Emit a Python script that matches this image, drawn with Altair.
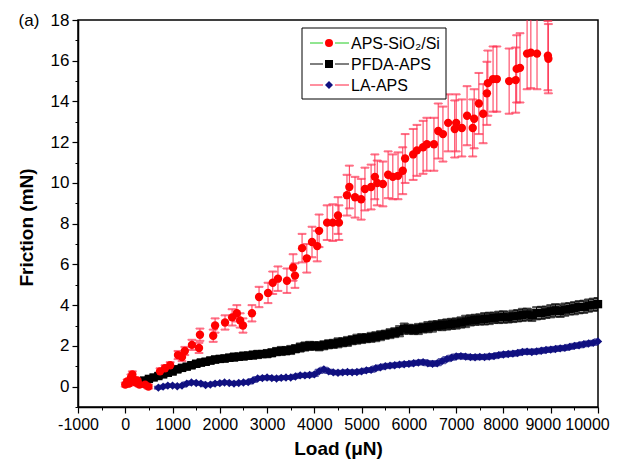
import altair as alt
import pandas as pd

series_names = ["APS-SiO₂/Si", "PFDA-APS", "LA-APS"]

red_load = [0, 40, 80, 120, 150, 180, 220, 260, 300, 420, 490, 735, 840, 950, 1115, 1200, 1260,
            1410, 1560, 1580, 1860, 1900, 2110, 2260, 2360, 2430, 2490, 2680, 2830, 3020, 3120,
            3230, 3420, 3550, 3590, 3740, 3840, 3950, 4060, 4100, 4270, 4390, 4500, 4520, 4690,
            4740, 4860, 4990, 5070, 5200, 5280, 5330, 5450, 5560, 5660, 5770, 5870, 5920, 6090,
            6170, 6300, 6380, 6530, 6620, 6720, 6830, 6970, 7000, 7120, 7230, 7350, 7380, 7480,
            7570, 7650, 7670, 7780, 7860, 8120, 8260, 8280, 8350, 8500, 8580, 8710, 8940, 8950]
red_friction = [0.1, 0.25, 0.15, 0.45, 0.6, 0.35, 0.2, 0.3, 0.1, 0.1, 0.0, 0.75, 0.9, 1.05, 1.55,
                1.45, 1.75, 2.05, 1.9, 2.55, 2.5, 3.0, 3.15, 3.4, 3.6, 3.25, 3.0, 3.6, 4.4, 4.6,
                5.1, 5.3, 5.2, 5.85, 5.45, 6.8, 6.3, 7.1, 6.9, 7.65, 8.05, 8.05, 8.4, 8.05, 9.4,
                9.8, 9.3, 9.2, 9.7, 9.8, 10.3, 10.0, 9.95, 10.4, 10.3, 10.35, 10.6, 11.2, 11.4,
                11.6, 11.75, 11.9, 11.9, 12.55, 12.4, 12.95, 12.65, 12.95, 12.7, 13.3, 12.7, 13.15,
                13.9, 13.4, 14.4, 14.9, 15.1, 15.1, 15.0, 15.05, 15.6, 15.65, 16.35, 16.4, 16.35,
                16.25, 16.1]
red_err = [0.1, 0.1, 0.1, 0.15, 0.15, 0.1, 0.1, 0.1, 0.1, 0.1, 0.1, 0.15, 0.15, 0.15, 0.2, 0.2,
           0.2, 0.25, 0.25, 0.3, 0.3, 0.35, 0.35, 0.4, 0.4, 0.35, 0.35, 0.4, 0.5, 0.5, 0.55, 0.6,
           0.6, 0.65, 0.6, 0.7, 0.7, 0.75, 0.75, 0.8, 0.85, 0.9, 0.9, 0.85, 1.0, 1.05, 1.0, 1.0,
           1.05, 1.1, 1.1, 1.1, 1.1, 1.15, 1.1, 1.15, 1.15, 1.2, 1.25, 1.25, 1.3, 1.3, 1.3, 1.35,
           1.35, 1.4, 1.4, 1.4, 1.4, 1.45, 1.4, 1.45, 1.5, 1.45, 1.55, 1.6, 1.6, 1.6, 1.6, 1.6,
           1.65, 1.7, 1.75, 1.75, 1.75, 1.7, 1.7]

black_load = [300, 400, 500, 600, 700, 800, 900, 1000, 1100, 1200, 1300, 1400, 1500, 1600, 1700,
              1800, 1900, 2000, 2100, 2200, 2300, 2400, 2500, 2600, 2700, 2800, 2900, 3000, 3100,
              3200, 3300, 3400, 3500, 3600, 3700, 3800, 3900, 4000, 4100, 4200, 4300, 4400, 4500,
              4600, 4700, 4800, 4900, 5000, 5100, 5200, 5300, 5400, 5500, 5600, 5700, 5800, 5900,
              6000, 6100, 6200, 6300, 6400, 6500, 6600, 6700, 6800, 6900, 7000, 7100, 7200, 7300,
              7400, 7500, 7600, 7700, 7800, 7900, 8000, 8100, 8200, 8300, 8400, 8500, 8600, 8700,
              8800, 8900, 9000, 9100, 9200, 9300, 9400, 9500, 9600, 9700, 9800, 9900, 10000]
black_friction = [0.22, 0.30, 0.38, 0.45, 0.52, 0.60, 0.68, 0.74, 0.85, 0.92, 0.98, 1.05, 1.12,
                  1.18, 1.22, 1.28, 1.33, 1.36, 1.38, 1.42, 1.45, 1.47, 1.50, 1.52, 1.55, 1.58,
                  1.60, 1.62, 1.66, 1.72, 1.75, 1.76, 1.80, 1.86, 1.92, 1.97, 2.00, 2.00, 1.98,
                  2.03, 2.08, 2.10, 2.15, 2.18, 2.22, 2.28, 2.33, 2.36, 2.38, 2.42, 2.45, 2.50,
                  2.55, 2.60, 2.65, 2.72, 2.85, 2.82, 2.80, 2.83, 2.88, 2.92, 2.95, 3.00, 3.02,
                  3.05, 3.08, 3.10, 3.15, 3.20, 3.25, 3.28, 3.30, 3.33, 3.35, 3.38, 3.40, 3.42,
                  3.40, 3.45, 3.48, 3.52, 3.55, 3.50, 3.60, 3.62, 3.65, 3.70, 3.75, 3.72, 3.78,
                  3.82, 3.85, 3.90, 3.92, 3.98, 4.02, 4.05]
black_err = [0.08, 0.1, 0.1, 0.1, 0.12, 0.12, 0.12, 0.12, 0.15, 0.15, 0.12, 0.15, 0.15, 0.15,
             0.15, 0.15, 0.15, 0.15, 0.15, 0.15, 0.18, 0.15, 0.18, 0.15, 0.18, 0.18, 0.15, 0.18,
             0.18, 0.18, 0.2, 0.18, 0.2, 0.18, 0.2, 0.2, 0.2, 0.18, 0.2, 0.2, 0.2, 0.2, 0.22,
             0.2, 0.22, 0.2, 0.22, 0.22, 0.2, 0.22, 0.22, 0.22, 0.2, 0.22, 0.22, 0.25, 0.25,
             0.22, 0.22, 0.25, 0.22, 0.25, 0.25, 0.22, 0.25, 0.25, 0.25, 0.25, 0.25, 0.28, 0.25,
             0.25, 0.25, 0.28, 0.28, 0.25, 0.28, 0.28, 0.25, 0.28, 0.28, 0.3, 0.28, 0.28, 0.3,
             0.3, 0.28, 0.3, 0.3, 0.3, 0.3, 0.28, 0.3, 0.3, 0.3, 0.3, 0.3, 0.3]

blue_load = [700, 800, 900, 1000, 1100, 1200, 1300, 1400, 1500, 1600, 1700, 1800, 1900, 2000,
             2100, 2200, 2300, 2400, 2500, 2600, 2700, 2800, 2900, 3000, 3100, 3200, 3300, 3400,
             3500, 3600, 3700, 3800, 3900, 4000, 4100, 4200, 4300, 4400, 4500, 4600, 4700, 4800,
             4900, 5000, 5100, 5200, 5300, 5400, 5500, 5600, 5700, 5800, 5900, 6000, 6100, 6200,
             6300, 6400, 6500, 6600, 6700, 6800, 6900, 7000, 7100, 7200, 7300, 7400, 7500, 7600,
             7700, 7800, 7900, 8000, 8100, 8200, 8300, 8400, 8500, 8600, 8700, 8800, 8900, 9000,
             9100, 9200, 9300, 9400, 9500, 9600, 9700, 9800, 9900, 10000]
blue_friction = [-0.05, 0.0, 0.05, 0.05, 0.02, 0.05, 0.15, 0.2, 0.18, 0.15, 0.08, 0.1, 0.15, 0.17,
                 0.2, 0.18, 0.15, 0.18, 0.2, 0.22, 0.3, 0.4, 0.42, 0.45, 0.42, 0.4, 0.43, 0.45,
                 0.45, 0.5, 0.55, 0.55, 0.57, 0.6, 0.75, 0.85, 0.75, 0.7, 0.68, 0.7, 0.72, 0.7,
                 0.72, 0.75, 0.8, 0.82, 0.9, 0.95, 1.0, 1.03, 1.05, 1.08, 1.1, 1.12, 1.15, 1.18,
                 1.2, 1.15, 1.12, 1.15, 1.25, 1.35, 1.42, 1.48, 1.5, 1.47, 1.45, 1.44, 1.46, 1.45,
                 1.48, 1.5, 1.55, 1.58, 1.6, 1.62, 1.65, 1.7, 1.72, 1.7, 1.73, 1.76, 1.8, 1.82,
                 1.85, 1.88, 1.9, 1.95, 2.0, 2.03, 2.08, 2.12, 2.15, 2.22]
blue_err = [0.05, 0.05, 0.05, 0.05, 0.05, 0.05, 0.06, 0.06, 0.06, 0.06, 0.06, 0.06,
            0.06, 0.06, 0.06, 0.06, 0.06, 0.06, 0.06, 0.07, 0.07, 0.07, 0.07, 0.07, 0.07, 0.07,
            0.07, 0.07, 0.07, 0.08, 0.08, 0.08, 0.08, 0.08, 0.08, 0.08, 0.08, 0.08, 0.08, 0.08,
            0.08, 0.08, 0.08, 0.08, 0.08, 0.09, 0.09, 0.09, 0.09, 0.09, 0.09, 0.09, 0.09, 0.09,
            0.09, 0.09, 0.1, 0.1, 0.1, 0.1, 0.1, 0.1, 0.1, 0.1, 0.1, 0.1, 0.1, 0.1, 0.1, 0.1,
            0.1, 0.1, 0.1, 0.1, 0.1, 0.1, 0.1, 0.1, 0.1, 0.1, 0.1, 0.1, 0.1, 0.1, 0.1, 0.1,
            0.1, 0.1, 0.1, 0.1, 0.1, 0.1, 0.1, 0.1]

x_major = [-1000, 0, 1000, 2000, 3000, 4000, 5000, 6000, 7000, 8000, 9000, 10000]
x_minor = [-500, 500, 1500, 2500, 3500, 4500, 5500, 6500, 7500, 8500, 9500]
y_major = [0, 2, 4, 6, 8, 10, 12, 14, 16, 18]
y_minor = [-1, 1, 3, 5, 7, 9, 11, 13, 15, 17]

marker_colors = ["#ff0000", "#000000", "#101080"]
bar_colors = ["#ff3050", "#000000", "#101080"]
legend_line_colors = ["#22cc22", "#000000", "#ff2040"]
shapes = ["circle", "square", "diamond"]

rows = []
for name, loads, fr, er in [
    (series_names[2], blue_load, blue_friction, blue_err),
    (series_names[1], black_load, black_friction, black_err),
    (series_names[0], red_load, red_friction, red_err),
]:
    for l, f, e in zip(loads, fr, er):
        rows.append({"series": name, "load": l, "friction": f, "lo": f - e, "hi": f + e})
df = pd.DataFrame(rows)

FONT = "Liberation Sans"
x_scale = alt.Scale(domain=[-1000, 10000], nice=False, zero=False)
y_scale = alt.Scale(domain=[-1, 18], nice=False, zero=False)
fill_scale = alt.Scale(domain=series_names, range=marker_colors)
bar_scale = alt.Scale(domain=series_names, range=bar_colors)
shape_scale = alt.Scale(domain=series_names, range=shapes)

base = alt.Chart(df)

axis_common = dict(labelFont=FONT, labelColor="black", titleFont=FONT,
                   titleFontSize=19, titleFontWeight="bold", titleColor="black",
                   tickColor="black", domainColor="black", tickSize=6, domainWidth=1.5,
                   tickWidth=1.2, grid=False, labelPadding=3, labelOverlap=False,
                   labelFlush=False, labelBound=False)

bars = base.mark_rule(strokeWidth=1, clip=True).encode(
    x=alt.X("load:Q", scale=x_scale,
            axis=alt.Axis(values=x_minor, labels=False, title=None, tickSize=3, domain=False,
                          tickColor="black", orient="bottom", grid=False)),
    y=alt.Y("lo:Q", scale=y_scale,
            axis=alt.Axis(values=y_minor, labels=False, title=None, tickSize=3, domain=False,
                          tickColor="black", orient="left", grid=False)),
    y2="hi:Q",
    stroke=alt.Stroke("series:N", scale=bar_scale, legend=None),
)
caps_lo = base.mark_tick(orient="horizontal", size=8, thickness=1, clip=True).encode(
    x=alt.X("load:Q", scale=x_scale, axis=None),
    y=alt.Y("lo:Q", scale=y_scale, axis=None),
    stroke=alt.Stroke("series:N", scale=bar_scale, legend=None),
    fill=alt.Fill("series:N", scale=bar_scale, legend=None),
)
caps_hi = base.mark_tick(orient="horizontal", size=8, thickness=1, clip=True).encode(
    x=alt.X("load:Q", scale=x_scale, axis=None),
    y=alt.Y("hi:Q", scale=y_scale, axis=None),
    stroke=alt.Stroke("series:N", scale=bar_scale, legend=None),
    fill=alt.Fill("series:N", scale=bar_scale, legend=None),
)
x_label_offset = {
    "condition": [
        {"test": "datum.value == 10000", "value": -11},
        {"test": "datum.value == 9000", "value": -8},
        {"test": "datum.value == 8000", "value": -3},
    ],
    "value": 0,
}
points = base.mark_point(filled=True, size=70, opacity=1).encode(
    x=alt.X("load:Q", scale=x_scale,
            axis=alt.Axis(values=x_major, title="Load (μN)", labelExpr="'' + datum.value",
                          labelFontSize=16, labelOffset=x_label_offset,
                          titlePadding=7, orient="bottom", **axis_common)),
    y=alt.Y("friction:Q", scale=y_scale,
            axis=alt.Axis(values=y_major, title="Friction (mN)", titlePadding=14, titleY=207,
                          labelFontSize=17, orient="left", **axis_common)),
    color=alt.Color("series:N", scale=fill_scale, legend=None),
    shape=alt.Shape("series:N", scale=shape_scale, legend=None),
)

one = pd.DataFrame({"k": [0]})
legend_layers = [
    alt.Chart(one).mark_rect(fill="white", stroke="black", strokeWidth=1).encode(
        x=alt.value(224), x2=alt.value(368), y=alt.value(8), y2=alt.value(79))
]
row_y = [23, 44, 65]
for i, name in enumerate(series_names):
    for xa, xb in [(232, 245), (257, 271)]:
        legend_layers.append(alt.Chart(one).mark_rule(color=legend_line_colors[i], strokeWidth=1).encode(
            x=alt.value(xa), x2=alt.value(xb), y=alt.value(row_y[i])))
    legend_layers.append(alt.Chart(one).mark_point(
        filled=True, size=64, shape=shapes[i], color=marker_colors[i], opacity=1).encode(
        x=alt.value(251), y=alt.value(row_y[i])))
    legend_layers.append(alt.Chart(one).mark_text(
        text=name, font=FONT, fontSize=16, align="left", baseline="middle", color="black").encode(
        x=alt.value(273), y=alt.value(row_y[i] + 1)))

panel_label = alt.Chart(one).mark_text(
    text="(a)", font=FONT, fontSize=17, align="center", baseline="middle", color="black").encode(
    x=alt.value(-49), y=alt.value(1))

chart = alt.layer(bars, caps_lo, caps_hi, points, *legend_layers, panel_label).resolve_axis(
    x="independent", y="independent"
).properties(
    width=520, height=387,
    autosize=alt.AutoSizeParams(type="none"),
    padding={"left": 70, "top": 12, "right": 13, "bottom": 54},
).configure_view(stroke="black", strokeWidth=1.5)

chart.save("out.html", embed_options={"renderer": "svg", "actions": False})
